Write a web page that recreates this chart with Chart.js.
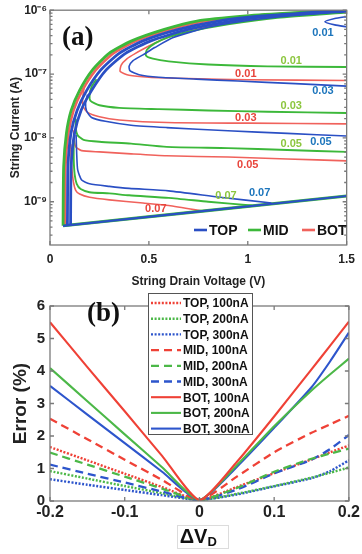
<!DOCTYPE html>
<html>
<head>
<meta charset="utf-8">
<script src="https://cdn.jsdelivr.net/npm/chart.js@4.4.1/dist/chart.umd.min.js"></script>
<style>
  html, body { margin: 0; padding: 0; background: #fff; }
  canvas { display: block; position: absolute; left: 0; }
  #chartA { top: 0; }
  #chartB { top: 292px; }
</style>
</head>
<body>
<canvas id="chartA" width="362" height="292"></canvas>
<canvas id="chartB" width="362" height="262"></canvas>
<script>
// ---------- panel (a): string current vs drain voltage ----------
const seriesA = ['TOP', 'MID', 'BOT'];
const xTicksA = [0, 0.5, 1, 1.5];
const yTicksA = [1e-9, 1e-8, 1e-7, 1e-6];
const yTickLabelsA = ['10⁻⁹', '10⁻⁸', '10⁻⁷', '10⁻⁶'];

// thick band on the left / top (all contours merge into it)
const envI = [4.2e-10, 3.55e-9, 1.18e-8, 2.69e-8, 5.5e-8, 1.15e-7, 2.09e-7, 3.31e-7, 5.01e-7, 6.76e-7, 8.13e-7, 9.12e-7, 1e-6];
const envMidV = [0.066, 0.069, 0.083, 0.107, 0.149, 0.214, 0.297, 0.413, 0.578, 0.743, 0.99, 1.24, 1.5];
const envBotV = [0.075, 0.078, 0.093, 0.119, 0.163, 0.231, 0.318, 0.437, 0.61, 0.79, 1.02, 1.27, 1.5];
const envTopV = [0.088, 0.091, 0.106, 0.137, 0.185, 0.256, 0.348, 0.47, 0.65, 0.85, 1.07, 1.31, 1.5];
const envTopInV = [0.104, 0.107, 0.124, 0.157, 0.21, 0.283, 0.38, 0.51, 0.70, 0.92, 1.12, 1.35, 1.5];
const floorV = [0.066, 1.5];
const floorI = [4.2e-10, 1.23e-9];

// contour lines, TOP
const top001V = [1.5, 1.44, 1.39, 1.44, 1.5];
const top001I = [7.94e-7, 7.41e-7, 6.61e-7, 5.89e-7, 5.5e-7];
const top003V = [1.5, 1.24, 0.95, 0.74, 0.55, 0.45, 0.405, 0.40, 0.42, 0.47, 0.53, 0.62, 0.8, 1.05, 1.3, 1.5];
const top003I = [6.46e-8, 7.08e-8, 7.76e-8, 8.32e-8, 8.91e-8, 9.77e-8, 1.12e-7, 1.32e-7, 1.62e-7, 2.0e-7, 2.6e-7, 3.7e-7, 5.4e-7, 7.2e-7, 8.6e-7, 9.4e-7];
const top005V = [1.5, 1.2, 0.9, 0.59, 0.41, 0.28, 0.21, 0.185, 0.18, 0.19];
const top005I = [1.07e-8, 1.175e-8, 1.29e-8, 1.45e-8, 1.58e-8, 1.82e-8, 2.09e-8, 2.63e-8, 3.55e-8, 4.79e-8];
const top007V = [1.12, 0.86, 0.6, 0.4, 0.3, 0.2, 0.16, 0.14, 0.135, 0.132];
const top007I = [9.55e-10, 1.175e-9, 1.48e-9, 1.62e-9, 1.74e-9, 1.91e-9, 2.19e-9, 3.16e-9, 5.62e-9, 1.12e-8];
// MID
const mid001V = [1.5, 1.1, 0.8, 0.6, 0.52, 0.485, 0.49, 0.53, 0.6, 0.7, 0.9, 1.15, 1.5];
const mid001I = [1.29e-7, 1.32e-7, 1.41e-7, 1.58e-7, 1.74e-7, 1.95e-7, 2.4e-7, 3.02e-7, 3.8e-7, 4.6e-7, 6.0e-7, 7.6e-7, 9.2e-7];
const mid003V = [1.5, 1.1, 0.8, 0.55, 0.35, 0.25, 0.205, 0.20, 0.21, 0.235];
const mid003I = [2.45e-8, 2.57e-8, 2.69e-8, 2.82e-8, 2.95e-8, 3.24e-8, 3.8e-8, 4.68e-8, 6.31e-8, 8.32e-8];
const mid005V = [1.5, 1.2, 0.9, 0.59, 0.41, 0.25, 0.17, 0.14, 0.13, 0.13];
const mid005I = [6.03e-9, 6.46e-9, 6.92e-9, 7.24e-9, 8.13e-9, 8.71e-9, 9.33e-9, 1.096e-8, 1.41e-8, 2.0e-8];
const mid007V = [1.02, 0.8, 0.6, 0.4, 0.3, 0.2, 0.155, 0.135, 0.125, 0.12, 0.12];
const mid007I = [8.71e-10, 1e-9, 1.15e-9, 1.26e-9, 1.35e-9, 1.41e-9, 1.58e-9, 1.91e-9, 2.63e-9, 4.57e-9, 8.91e-9];
// BOT
const bot001V = [1.5, 1.0, 0.7, 0.5, 0.40, 0.355, 0.36, 0.39, 0.43, 0.5, 0.6, 0.8, 1.1, 1.5];
const bot001I = [7.94e-8, 8.13e-8, 8.51e-8, 8.91e-8, 9.55e-8, 1.096e-7, 1.38e-7, 1.74e-7, 2.09e-7, 2.75e-7, 3.8e-7, 5.5e-7, 7.6e-7, 9.6e-7];
const bot003V = [1.5, 1.0, 0.59, 0.35, 0.25, 0.19, 0.168, 0.165, 0.172];
const bot003I = [1.66e-8, 1.7e-8, 1.74e-8, 1.91e-8, 2.14e-8, 2.51e-8, 3.09e-8, 4.17e-8, 6.03e-8];
const bot005V = [1.5, 1.2, 0.9, 0.59, 0.41, 0.25, 0.16, 0.13, 0.122, 0.12];
const bot005I = [4.37e-9, 4.68e-9, 5.01e-9, 5.25e-9, 5.62e-9, 6.03e-9, 6.31e-9, 7.24e-9, 9.55e-9, 1.32e-8];
const bot007V = [0.78, 0.6, 0.47, 0.3, 0.2, 0.15, 0.13, 0.118, 0.108, 0.105];
const bot007I = [7.08e-10, 8.71e-10, 9.55e-10, 1.07e-9, 1.175e-9, 1.32e-9, 1.51e-9, 2.09e-9, 3.98e-9, 7.94e-9];

// contour level labels
const levelText = ['0.01', '0.01', '0.01', '0.03', '0.03', '0.03', '0.05', '0.05', '0.05', '0.07', '0.07', '0.07'];
const levelSeries = [0, 1, 2, 0, 1, 2, 1, 0, 2, 1, 0, 2];
const levelV = [1.38, 1.22, 0.99, 1.38, 1.22, 0.99, 1.22, 1.37, 1.0, 0.89, 1.06, 0.535];
const levelI = [4.47e-7, 1.62e-7, 1.02e-7, 5.37e-8, 3.16e-8, 2.04e-8, 8.13e-9, 8.51e-9, 3.8e-9, 1.23e-9, 1.38e-9, 7.59e-10];

// ---------- panel (b): error vs delta V_D ----------
const dvTicks = [-0.2, -0.1, 0, 0.1, 0.2];
const errTicks = [0, 1, 2, 3, 4, 5, 6];
const dV = [-0.2, -0.15, -0.1, -0.05, 0, 0.05, 0.1, 0.15, 0.175, 0.2];
const top100 = [1.66, 1.25, 0.84, 0.43, 0.03, 0.43, 0.86, 1.28, 1.5, 1.71];
const top200 = [0.92, 0.69, 0.46, 0.24, 0.03, 0.22, 0.46, 0.72, 0.87, 1.03];
const top300 = [0.67, 0.5, 0.34, 0.18, 0.03, 0.2, 0.45, 0.7, 0.92, 1.25];
const mid100 = [2.53, 1.9, 1.27, 0.65, 0.03, 0.75, 1.5, 2.1, 2.36, 2.62];
const mid200 = [1.49, 1.12, 0.75, 0.38, 0.03, 0.4, 0.9, 1.3, 1.46, 1.61];
const mid300 = [1.12, 0.84, 0.57, 0.29, 0.03, 0.35, 0.85, 1.27, 1.6, 2.03];
const bot100 = [5.5, 4.12, 2.76, 1.39, 0.03, 1.2, 2.6, 4.05, 4.78, 5.52];
const bot200 = [4.09, 3.07, 2.05, 1.04, 0.03, 1.1, 2.3, 3.4, 3.9, 4.38];
const bot300 = [3.54, 2.66, 1.78, 0.9, 0.03, 1.05, 2.25, 3.5, 4.3, 5.18];

const lineColA = ['#2a4fc4', '#3cb83a', '#f0625c'];
const textColA = ['#1c75bc', '#8cc63e', '#e8453c'];
const colB = { red: '#ef4136', green: '#4cb848', blue: '#2d55cc' };
const FONT = 'Liberation Sans, Arial, sans-serif';

function pts(xs, ys) { return xs.map((x, k) => ({ x: x, y: ys[k] })); }

function lineA(xs, ys, s, w) {
  return { data: pts(xs, ys), borderColor: lineColA[s], borderWidth: w || 1.6,
           showLine: true, pointRadius: 0, tension: 0.2, fill: false };
}

// first dataset is drawn on top
const dsA = [
  lineA(floorV, floorI, 0, 2.2),
  lineA(envTopInV, envI, 0, 2.8),
  lineA(envTopV, envI, 0, 2.8),
  lineA(top001V, top001I, 0), lineA(top003V, top003I, 0),
  lineA(top005V, top005I, 0), lineA(top007V, top007I, 0),
  lineA(envMidV, envI, 1, 2.8),
  lineA(floorV, floorI, 1, 3.2),
  lineA(mid001V, mid001I, 1, 1.9), lineA(mid003V, mid003I, 1, 1.9),
  lineA(mid005V, mid005I, 1, 1.9), lineA(mid007V, mid007I, 1, 1.9),
  lineA(envBotV, envI, 2, 2.6),
  lineA(bot001V, bot001I, 2), lineA(bot003V, bot003I, 2),
  lineA(bot005V, bot005I, 2), lineA(bot007V, bot007I, 2)
];

const framePlugin = {
  id: 'frame',
  afterDraw(chart, args, opts) {
    const { ctx, chartArea: a, scales } = chart;
    ctx.save();
    ctx.strokeStyle = '#7a7a7a';
    ctx.lineWidth = 1.3;
    ctx.strokeRect(a.left, a.top, a.right - a.left, a.bottom - a.top);
    ctx.beginPath();
    scales.x.ticks.forEach(t => {
      const p = scales.x.getPixelForValue(t.value);
      ctx.moveTo(p, a.bottom); ctx.lineTo(p, a.bottom - 4);
      ctx.moveTo(p, a.top); ctx.lineTo(p, a.top + 4);
    });
    scales.y.ticks.forEach(t => {
      const p = scales.y.getPixelForValue(t.value);
      ctx.moveTo(a.left, p); ctx.lineTo(a.left + 4, p);
      ctx.moveTo(a.right, p); ctx.lineTo(a.right - 4, p);
    });
    if (opts.minorLog) {
      const y = scales.y;
      for (let e = -10; e < -6; e++) {
        for (let m = 2; m <= 9; m++) {
          const v = m * Math.pow(10, e);
          if (v < y.min || v > y.max) continue;
          const p = y.getPixelForValue(v);
          ctx.moveTo(a.left, p); ctx.lineTo(a.left + 2.5, p);
          ctx.moveTo(a.right, p); ctx.lineTo(a.right - 2.5, p);
        }
      }
    }
    ctx.stroke();
    ctx.restore();
  }
};

const annotA = {
  id: 'annotA',
  afterDraw(chart) {
    const { ctx, scales } = chart;
    ctx.save();
    ctx.font = 'bold 11px ' + FONT;
    ctx.textAlign = 'center';
    ctx.textBaseline = 'middle';
    levelText.forEach((t, k) => {
      ctx.fillStyle = textColA[levelSeries[k]];
      ctx.fillText(t, scales.x.getPixelForValue(levelV[k]), scales.y.getPixelForValue(levelI[k]));
    });
    // panel letter
    ctx.fillStyle = '#111';
    ctx.font = 'bold 27px Liberation Serif, Times New Roman, serif';
    ctx.textAlign = 'left';
    ctx.fillText('(a)', 62, 38);
    // legend (horizontal, bottom right)
    const lx = [194, 248, 302];
    ctx.font = 'bold 14px ' + FONT;
    seriesA.forEach((s, k) => {
      ctx.strokeStyle = lineColA[k];
      ctx.lineWidth = 2.6;
      ctx.beginPath();
      ctx.moveTo(lx[k], 230); ctx.lineTo(lx[k] + 13, 230);
      ctx.stroke();
      ctx.fillStyle = '#111';
      ctx.fillText(s, lx[k] + 15, 231);
    });
    ctx.restore();
  }
};

new Chart(document.getElementById('chartA'), {
  type: 'scatter',
  data: { datasets: dsA },
  options: {
    responsive: false, animation: false, devicePixelRatio: 1,
    layout: { padding: { top: 9, right: 9, left: 0, bottom: 0 } },
    plugins: { legend: { display: false }, tooltip: { enabled: false }, frame: { minorLog: true } },
    scales: {
      x: {
        type: 'linear', min: 0, max: 1.5,
        afterBuildTicks: s => { s.ticks = xTicksA.map(v => ({ value: v })); },
        afterFit: s => { s.height = 47; },
        grid: { display: false, drawTicks: false }, border: { display: false },
        ticks: { padding: 7, color: '#222', font: { family: FONT, size: 12, weight: 'bold' }, callback: v => String(v) },
        title: { display: true, text: 'String Drain Voltage (V)', color: '#222',
                 font: { family: FONT, size: 12, weight: 'bold' }, padding: { top: 0, bottom: 3 } }
      },
      y: {
        type: 'logarithmic', min: 2.1e-10, max: 1e-6,
        afterBuildTicks: s => { s.ticks = yTicksA.map(v => ({ value: v })); },
        afterFit: s => { s.width = 50; },
        grid: { display: false, drawTicks: false }, border: { display: false },
        ticks: { padding: 3, color: '#222', font: { family: FONT, size: 12, weight: 'bold' },
                 callback: (v, i) => yTickLabelsA[i] },
        title: { display: true, text: 'String Current (A)', color: '#222',
                 font: { family: FONT, size: 12, weight: 'bold' }, padding: { top: 8, bottom: 0 } }
      }
    }
  },
  plugins: [framePlugin, annotA]
});

// ---------- panel (b) ----------
const seriesB = [
  { label: 'TOP, 100nA', vals: top100, color: colB.red, style: 'dot' },
  { label: 'TOP, 200nA', vals: top200, color: colB.green, style: 'dot' },
  { label: 'TOP, 300nA', vals: top300, color: colB.blue, style: 'dot' },
  { label: 'MID, 100nA', vals: mid100, color: colB.red, style: 'dash' },
  { label: 'MID, 200nA', vals: mid200, color: colB.green, style: 'dash' },
  { label: 'MID, 300nA', vals: mid300, color: colB.blue, style: 'dash' },
  { label: 'BOT, 100nA', vals: bot100, color: colB.red, style: 'solid' },
  { label: 'BOT, 200nA', vals: bot200, color: colB.green, style: 'solid' },
  { label: 'BOT, 300nA', vals: bot300, color: colB.blue, style: 'solid' }
];
const dashFor = { dot: [2, 1.6], dash: [8, 5], solid: [] };
const widthFor = { dot: 2.4, dash: 2.3, solid: 2.1 };
const orderFor = { dot: 2, dash: 1, solid: 0 };

const dsB = seriesB.map(s => ({
  label: s.label, data: pts(dV, s.vals), borderColor: s.color,
  borderDash: dashFor[s.style], borderWidth: widthFor[s.style], order: orderFor[s.style],
  showLine: true, pointRadius: 0, tension: 0.2, fill: false
}));

const annotB = {
  id: 'annotB',
  afterDraw(chart) {
    const { ctx, chartArea: a } = chart;
    ctx.save();
    ctx.fillStyle = '#111';
    ctx.font = 'bold 27px Liberation Serif, Times New Roman, serif';
    ctx.textBaseline = 'middle';
    ctx.fillText('(b)', 87, 22);
    // legend box
    const bx = 148, by = 1, bw = 104, bh = 141;
    ctx.fillStyle = '#fff';
    ctx.fillRect(bx, by, bw, bh);
    ctx.strokeStyle = '#555';
    ctx.lineWidth = 1;
    ctx.strokeRect(bx + 0.5, by + 0.5, bw, bh);
    ctx.font = 'bold 12px ' + FONT;
    chart.data.datasets.forEach((d, k) => {
      const yy = by + 10 + k * 15.7;
      ctx.strokeStyle = d.borderColor;
      ctx.lineWidth = d.borderWidth;
      ctx.setLineDash(d.borderDash);
      ctx.beginPath();
      ctx.moveTo(bx + 3, yy); ctx.lineTo(bx + 33, yy);
      ctx.stroke();
      ctx.setLineDash([]);
      ctx.fillStyle = '#111';
      ctx.fillText(d.label, bx + 35, yy + 1);
    });
    // x axis title with subscript
    const cx = (a.left + a.right) / 2;
    ctx.strokeStyle = '#dcdcdc';
    ctx.lineWidth = 1;
    ctx.strokeRect(177.5, 233.5, 51, 23);
    ctx.font = 'bold 20px ' + FONT;
    ctx.textAlign = 'right';
    ctx.fillText('ΔV', cx + 8, 245);
    ctx.font = 'bold 13px ' + FONT;
    ctx.textAlign = 'left';
    ctx.fillText('D', cx + 8, 250);
    ctx.restore();
  }
};

new Chart(document.getElementById('chartB'), {
  type: 'scatter',
  data: { datasets: dsB },
  options: {
    responsive: false, animation: false, devicePixelRatio: 1,
    layout: { padding: { top: 1, right: 9, left: 0, bottom: 0 } },
    plugins: { legend: { display: false }, tooltip: { enabled: false }, frame: { minorLog: false } },
    scales: {
      x: {
        type: 'linear', min: -0.2, max: 0.2,
        afterBuildTicks: s => { s.ticks = dvTicks.map(v => ({ value: v })); },
        afterFit: s => { s.height = 53; },
        grid: { display: false, drawTicks: false }, border: { display: false },
        ticks: { padding: 2, color: '#222', font: { family: FONT, size: 16, weight: 'bold' }, callback: v => String(v) }
      },
      y: {
        type: 'linear', min: 0, max: 6,
        afterBuildTicks: s => { s.ticks = errTicks.map(v => ({ value: v })); },
        afterFit: s => { s.width = 50; },
        grid: { display: false, drawTicks: false }, border: { display: false },
        ticks: { padding: 5, color: '#222', font: { family: FONT, size: 15, weight: 'bold' } },
        title: { display: true, text: 'Error (%)', color: '#222',
                 font: { family: FONT, size: 19, weight: 'bold' }, padding: { top: 9, bottom: 0 } }
      }
    }
  },
  plugins: [framePlugin, annotB]
});
</script>
</body>
</html>
